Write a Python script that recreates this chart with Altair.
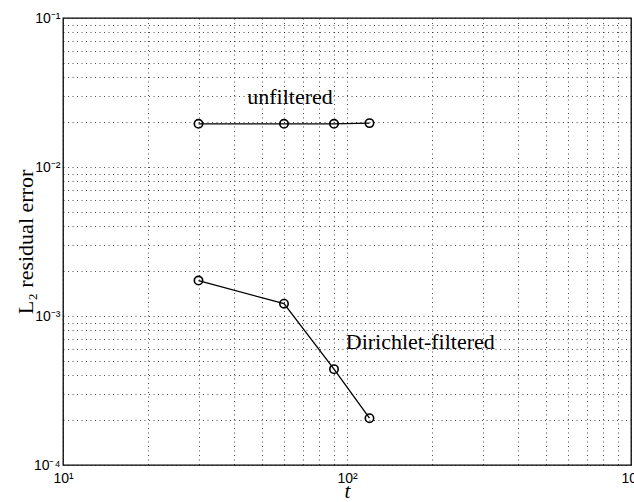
import altair as alt
import pandas as pd

# ---- data ----
t_vals = [30, 60, 90, 120]
unfiltered = [0.0195, 0.0195, 0.0195, 0.0197]
dirichlet = [1.73e-3, 1.21e-3, 4.4e-4, 2.06e-4]

# grid / tick positions and labels
x_grid = [10, 20, 30, 40, 50, 60, 70, 80, 90,
          100, 200, 300, 400, 500, 600, 700, 800, 900, 1000]
y_grid = [0.0001, 0.0002, 0.0003, 0.0004, 0.0005, 0.0006, 0.0007, 0.0008, 0.0009,
          0.001, 0.002, 0.003, 0.004, 0.005, 0.006, 0.007, 0.008, 0.009,
          0.01, 0.02, 0.03, 0.04, 0.05, 0.06, 0.07, 0.08, 0.09, 0.1]
x_major = [10, 100, 1000]
x_major_labels = ["10¹", "10²", "10³"]
y_major = [0.0001, 0.001, 0.01, 0.1]
y_major_labels = ["10⁻⁴", "10⁻³", "10⁻²", "10⁻¹"]

ann_text = ["unfiltered", "Dirichlet-filtered"]
ann_x = [63, 99]
ann_y = [0.0295, 6.7e-4]
ann_align = ["center", "left"]


def label_expr(vals, labels):
    parts = [f"datum.value == {v} ? '{l}'" for v, l in zip(vals, labels)]
    return " : ".join(parts) + " : ''"


df = pd.DataFrame({
    "t": t_vals * 2,
    "err": unfiltered + dirichlet,
    "series": ["unfiltered"] * 4 + ["Dirichlet"] * 4,
})
ann = pd.DataFrame({"text": ann_text, "t": ann_x, "err": ann_y, "align": ann_align})

xscale = alt.Scale(type="log", domain=[10, 1000], nice=False)
yscale = alt.Scale(type="log", domain=[1e-4, 1e-1], nice=False)

grid_style = dict(grid=True, gridDash=[1, 3.5], gridColor="#111", gridOpacity=0.75,
                  gridWidth=1)

x_axis = alt.Axis(
    values=x_grid, labelExpr=label_expr(x_major, x_major_labels), **grid_style,
    ticks=False, domain=False, labelOverlap=False, labelFlush=False,
    labelFont="Liberation Sans", labelFontSize=14, labelColor="black", labelPadding=6,
    title="t", titleFont="Liberation Serif", titleFontStyle="italic",
    titleFontSize=21, titleFontWeight="normal", titleColor="black",
    titleY=32, titleBaseline="alphabetic",
)
y_axis = alt.Axis(
    values=y_grid, labelExpr=label_expr(y_major, y_major_labels), **grid_style,
    ticks=False, domain=False, labelOverlap=False, labelFlush=False,
    labelFont="Liberation Sans", labelFontSize=14, labelColor="black", labelPadding=3,
    title="L₂ residual error", titleFont="Liberation Serif",
    titleFontSize=22, titleFontWeight="normal", titleColor="black",
    titleX=-38, titleY=223.5, titleAngle=270, titleAlign="center",
    titleBaseline="middle",
)

base = alt.Chart(df).encode(
    x=alt.X("t:Q", scale=xscale, axis=x_axis),
    y=alt.Y("err:Q", scale=yscale, axis=y_axis),
    detail="series:N",
)
lines = base.mark_line(color="black", strokeWidth=1.3)
points = base.mark_point(shape="circle", filled=False, size=70, color="black",
                         strokeWidth=1.6, opacity=1)

left_txt = alt.Chart(ann[ann["align"] == "center"]).mark_text(
    font="Liberation Serif", fontSize=22, color="black", align="center", baseline="middle"
).encode(x=alt.X("t:Q", scale=xscale), y=alt.Y("err:Q", scale=yscale), text="text:N")
right_txt = alt.Chart(ann[ann["align"] == "left"]).mark_text(
    font="Liberation Serif", fontSize=22, color="black", align="left", baseline="middle"
).encode(x=alt.X("t:Q", scale=xscale), y=alt.Y("err:Q", scale=yscale), text="text:N")

chart = (lines + points + left_txt + right_txt).properties(
    width=568, height=447,
    autosize=alt.AutoSizeParams(type="none"),
    padding={"left": 63, "top": 18, "right": 3, "bottom": 37},
    background="white",
).configure_view(stroke="black", strokeWidth=1.3)

chart.save("out.html", embed_options={"renderer": "svg", "actions": False})
